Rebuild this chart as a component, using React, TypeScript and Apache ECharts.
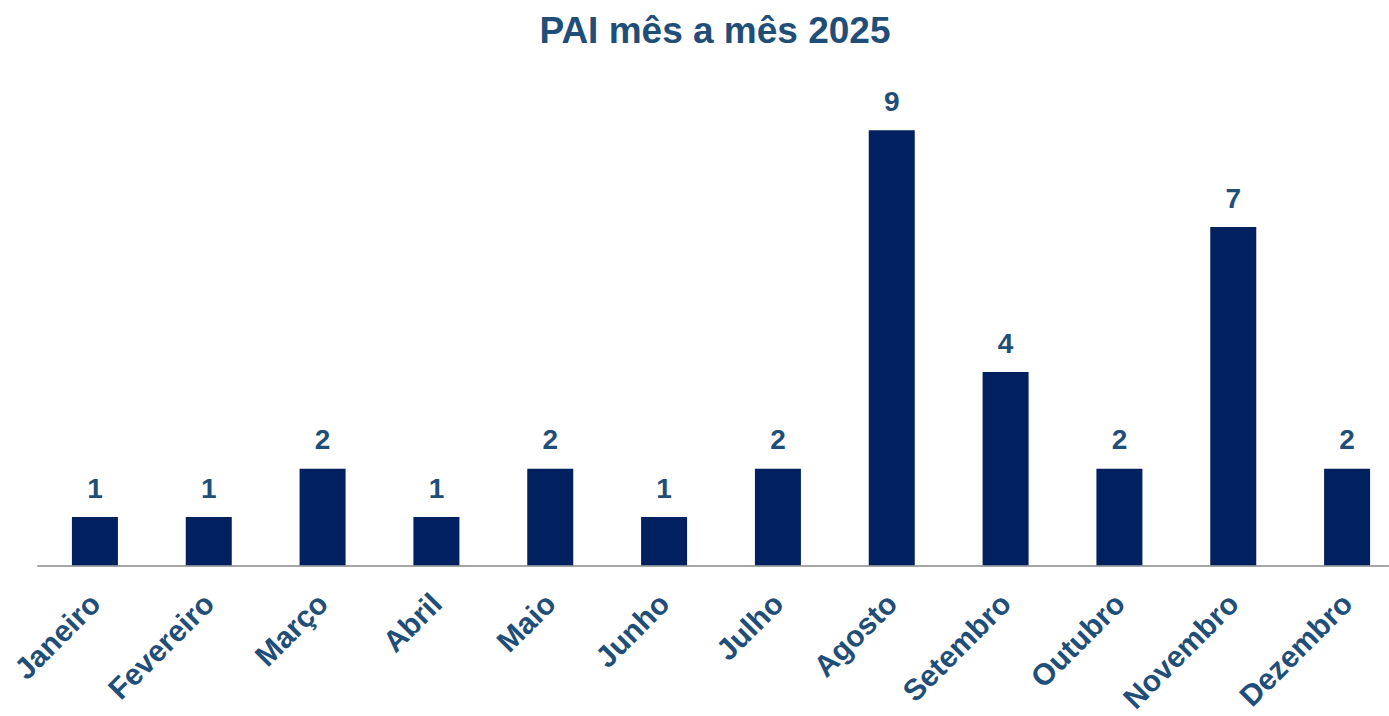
import React, { useEffect, useRef } from "react";
import * as echarts from "echarts";

const months = ["Janeiro", "Fevereiro", "Março", "Abril", "Maio", "Junho", "Julho", "Agosto", "Setembro", "Outubro", "Novembro", "Dezembro"];
const values = [1, 1, 2, 1, 2, 1, 2, 9, 4, 2, 7, 2];
const titleText = "PAI mês a mês 2025";

export default function App() {
  const ref = useRef<HTMLDivElement>(null);
  useEffect(() => {
    const chart = echarts.init(ref.current!, null, { renderer: "svg" });
    chart.setOption({
      animation: false,
      title: {
        text: titleText,
        left: 710,
        textAlign: "center",
        top: 7,
        textStyle: { fontFamily: "Liberation Sans, Arial", fontWeight: "bold", fontSize: 37, color: "#1F4E79" },
      },
      grid: { left: 38, right: 0, top: 82, bottom: 150, containLabel: false },
      xAxis: {
        type: "category",
        data: months,
        axisLine: { lineStyle: { color: "#A6A6A6", width: 2 } },
        axisTick: { show: false },
        axisLabel: {
          interval: 0,
          rotate: 45,
          margin: 33,
          fontFamily: "Liberation Sans, Arial",
          fontWeight: "bold",
          fontSize: 30,
          color: "#1F4E79",
        },
      },
      yAxis: {
        type: "value",
        min: 0,
        max: 10,
        show: false,
        splitLine: { show: false },
      },
      series: [
        {
          type: "bar",
          data: values,
          barWidth: 46,
          itemStyle: { color: "#002060" },
          label: {
            show: true,
            position: "top",
            distance: 15,
            fontFamily: "Liberation Sans, Arial",
            fontWeight: "bold",
            fontSize: 28,
            color: "#1F4E79",
          },
        },
      ],
    });
    return () => chart.dispose();
  }, []);
  return (
    <div style={{ position: "absolute", left: 0, top: 0, width: 1389, height: 716, overflow: "hidden" }}>
      <div ref={ref} style={{ width: 1404, height: 716 }} />
    </div>
  );
}
